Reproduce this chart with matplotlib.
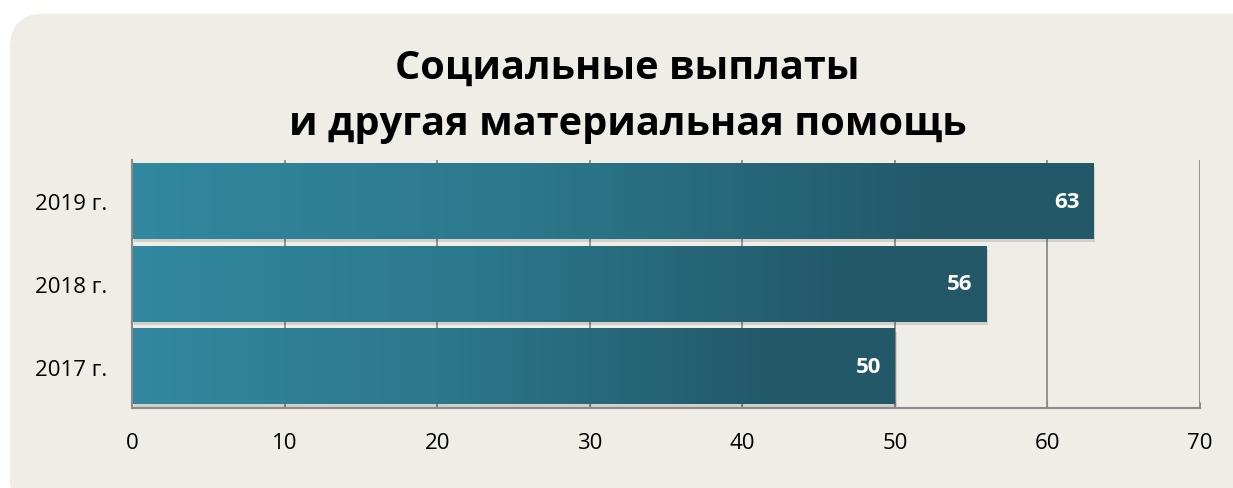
import numpy as np
import matplotlib.pyplot as plt
from matplotlib.patches import FancyBboxPatch, Rectangle
from matplotlib.colors import LinearSegmentedColormap

years = ["2017 г.", "2018 г.", "2019 г."]
values = [50, 56, 63]
xticks = [0, 10, 20, 30, 40, 50, 60, 70]
title = "Социальные выплаты\nи другая материальная помощь"

plt.rcParams['font.family'] = ['Open Sans', 'DejaVu Sans']

fig = plt.figure(figsize=(12.33, 4.89), dpi=100)
fig.patch.set_facecolor("white")

# rounded beige panel
panel = FancyBboxPatch((0.008, -0.05), 1.06, 1.02, boxstyle="round,pad=0,rounding_size=0.028",
                       transform=fig.transFigure, facecolor="#f0ede6", edgecolor="none",
                       mutation_aspect=12.33 / 4.89, zorder=-1)
fig.patches.append(panel)

ax = fig.add_axes([132 / 1233, 1 - 409 / 489, (1200 - 132) / 1233, (409 - 161) / 489])
ax.set_zorder(2)
ax.set_facecolor("none")

cmap = LinearSegmentedColormap.from_list("bar", [(0, "#31889f"), (0.4, "#2c788c"), (0.85, "#225868"), (1, "#225868")])
grad = np.linspace(0, 1, 256).reshape(1, -1)
h = 0.91
for i, v in enumerate(values):
    # shadow
    ax.add_patch(Rectangle((0.12, i - h / 2 - 0.035), v, h, facecolor="#000000", alpha=0.12,
                           edgecolor="none", zorder=2))
    ax.imshow(grad, cmap=cmap, aspect="auto", extent=(0, v, i - h / 2, i + h / 2), zorder=3)
    ax.text(v - 0.9, i, str(v), ha="right", va="center", color="white",
            fontsize=16, fontweight="bold", zorder=4)

ax.set_xlim(0, 70)
ax.set_ylim(-0.5, 2.5)
ax.set_xticks(xticks)
ax.set_yticks(range(len(years)))
ax.set_yticklabels(years)
ax.grid(axis="x", color="#8a8a8a", linewidth=1.3, zorder=1)
ax.set_axisbelow(True)
for s in ["top", "right"]:
    ax.spines[s].set_visible(False)
for s in ["left", "bottom"]:
    ax.spines[s].set_color("#8a8a8a")
    ax.spines[s].set_linewidth(1.5)
    ax.spines[s].set_zorder(5)
ax.tick_params(axis="x", length=4, color="#8a8a8a", labelsize=16, pad=17, direction="in")
ax.tick_params(axis="y", length=0, labelsize=16, pad=18)

fig.text(0.509, 0.803, title, ha="center", va="center", fontsize=28.6, fontweight="bold",
         linespacing=1.55)

fig.savefig("out.png", dpi=100, facecolor="white")
